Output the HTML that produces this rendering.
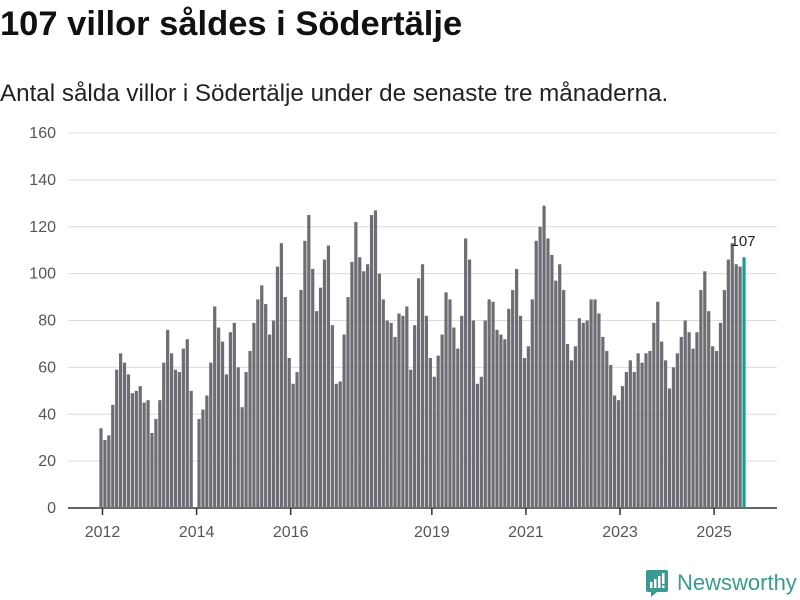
<!DOCTYPE html>
<html><head><meta charset="utf-8"><style>
body{margin:0;background:#fff;width:800px;height:600px;overflow:hidden;font-family:"Liberation Sans","DejaVu Sans",sans-serif;}
#title{position:absolute;left:0;top:5px;font-size:34.5px;font-weight:bold;color:#111;margin:0;white-space:nowrap;}
#sub{position:absolute;left:0;top:80px;font-size:24.2px;color:#222;white-space:nowrap;}
svg{position:absolute;left:0;top:0;}
</style></head><body>
<h1 id="title">107 villor såldes i Södertälje</h1>
<div id="sub">Antal sålda villor i Södertälje under de senaste tre månaderna.</div>
<svg id="chart" width="800" height="600"></svg>
<script>
const startYear = 2012;
const values = [34,29,31,44,59,66,62,57,49,50,52,45,46,32,38,46,62,76,66,59,58,68,72,50,
0,38,42,48,62,86,77,71,57,75,79,60,43,58,67,79,89,95,87,74,80,103,113,90,64,
53,58,93,114,125,102,84,94,106,112,78,53,54,74,90,105,122,107,101,104,125,127,100,89,
80,79,73,83,82,86,59,78,98,104,82,64,56,65,74,92,89,77,68,82,115,106,80,53,
56,80,89,88,76,74,72,85,93,102,82,64,69,89,114,120,129,115,108,97,104,93,70,63,
69,81,79,80,89,89,83,73,67,61,48,46,52,58,63,58,66,62,66,67,79,88,71,63,
51,60,66,73,80,75,68,75,93,101,84,69,67,79,93,106,113,104,103,107];
const yTicks = [0,20,40,60,80,100,120,140,160];
const xTickYears = [2012,2014,2016,2019,2021,2023,2025];

const NS="http://www.w3.org/2000/svg";
const svg=document.getElementById('chart');
const y0=508, yTop=133, yMax=160;
const y=v=>y0-(v/yMax)*(y0-yTop);
const xFirst=101, xLast=744;
const step=(xLast-xFirst)/(values.length-1);
const x=i=>xFirst+i*step;
function mk(t,a){const e=document.createElementNS(NS,t);for(const k in a)e.setAttribute(k,a[k]);svg.appendChild(e);return e;}
yTicks.forEach(t=>{
  const g=mk('line',{x1:68,x2:777,y1:y(t),y2:y(t),stroke:t===0?'#333':'#dcdcdc','stroke-width':t===0?1.5:1});
  
  
  const l=mk('text',{x:56,y:y(t)+5,'text-anchor':'end','font-size':16,fill:'#555'});
  l.textContent=t;
  
  
});
values.forEach((v,i)=>{
  const last=i===values.length-1;
  const r=mk('rect',{x:x(i)-1.6,y:y(v),width:step-0.7,height:y0-y(v),fill:last?'#17a08f':'#6e6d74'});
  
  
});
xTickYears.forEach(yr=>{
  const i=(yr-startYear)*12;
  const xx=x(i)+1.5;
  const tk=mk('line',{x1:xx,x2:xx,y1:y0,y2:y0+7,stroke:'#333','stroke-width':1.5});
  
  
  const l=mk('text',{x:xx,y:y0+29,'text-anchor':'middle','font-size':16,fill:'#555'});
  l.textContent=yr;
  
  
});
const lv=values[values.length-1];
const lab=mk('text',{x:x(values.length-1)-1,y:y(lv)-11,'text-anchor':'middle','font-size':15,fill:'#222'});
lab.textContent=lv;


</script>
<div style="position:absolute;left:645px;top:569px;display:flex;align-items:center;">
<svg width="24" height="28" viewBox="0 0 24 28" style="position:static"><path d="M3 1h18a2 2 0 0 1 2 2v18a2 2 0 0 1-2 2H12l-6 5v-5H3a2 2 0 0 1-2-2V3a2 2 0 0 1 2-2z" fill="#3a9a91"/><rect x="5" y="13" width="2.5" height="6" fill="#fff"/><rect x="9" y="10" width="2.5" height="9" fill="#fff"/><rect x="13" y="7" width="2.5" height="12" fill="#fff"/><rect x="17" y="4" width="2.5" height="11" fill="#fff"/><rect x="17" y="16.5" width="2.5" height="2.5" fill="#fff"/></svg>
<span style="font-size:22px;color:#3a9a91;margin-left:8px;font-family:'Liberation Sans',sans-serif;">Newsworthy</span>
</div>
</body></html>
